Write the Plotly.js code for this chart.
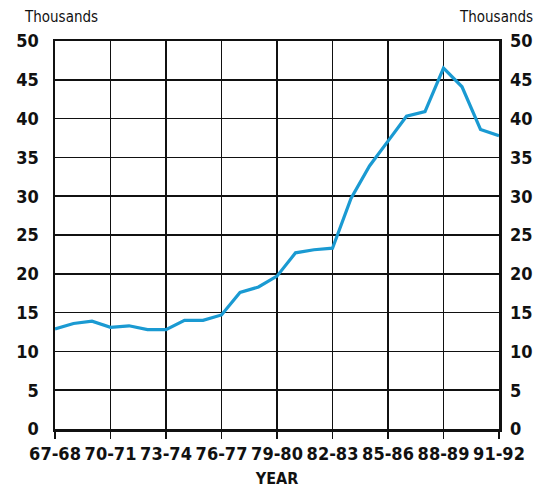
<!DOCTYPE html>
<html>
<head>
<meta charset="utf-8">
<script src="https://cdn.plot.ly/plotly-3.0.1.min.js"></script>
<style>html,body{margin:0;padding:0;background:#fff;}#chart{width:550px;height:488px;}
#chart svg text{font-stretch:condensed !important;}</style>
</head>
<body>
<div id="chart"></div>
<script>
const years = ["67-68","68-69","69-70","70-71","71-72","72-73","73-74","74-75","75-76","76-77",
  "77-78","78-79","79-80","80-81","81-82","82-83","83-84","84-85","85-86","86-87",
  "87-88","88-89","89-90","90-91","91-92"];
const values = [12.9,13.6,13.9,13.1,13.3,12.8,12.8,14.0,14.0,14.7,
  17.6,18.3,19.7,22.7,23.1,23.3,29.7,33.9,37.1,40.3,
  40.9,46.5,44.1,38.6,37.8];
const tickLabels = ["67-68","70-71","73-74","76-77","79-80","82-83","85-86","88-89","91-92"];
const yTicks = [0,5,10,15,20,25,30,35,40,45,50];

const FONT = '"DejaVu Sans Condensed", "Liberation Sans Narrow", sans-serif';
const tickFont = {family: FONT, size: 18, color: '#111', weight: 'bold'};

const traces = [
  {x: years, y: values, type: 'scatter', mode: 'lines',
   line: {color: '#1a9ad2', width: 3.2}, hoverinfo: 'x+y'},
  {x: years, y: values, type: 'scatter', mode: 'lines', yaxis: 'y2',
   line: {color: 'rgba(0,0,0,0)', width: 0}, hoverinfo: 'skip', showlegend: false}
];

const layout = {
  width: 550, height: 488,
  margin: {l: 55, r: 51, t: 41, b: 59},
  paper_bgcolor: '#fff', plot_bgcolor: '#fff',
  showlegend: false,
  xaxis: {
    type: 'category', categoryorder: 'array', categoryarray: years,
    range: [0, years.length - 1],
    tickmode: 'array', tickvals: tickLabels, ticktext: tickLabels, tickangle: 0,
    ticks: 'outside', ticklen: 7, tickwidth: 1.5, tickcolor: '#111',
    showgrid: true, gridcolor: '#111', gridwidth: 1.5,
    showline: true, linecolor: '#111', linewidth: 2.5, mirror: true,
    tickfont: tickFont, zeroline: false, automargin: false,
    title: {text: 'YEAR', font: {family: FONT, size: 16, color: '#111', weight: 'bold'}, standoff: 10}
  },
  yaxis: {
    range: [0, 50], tickmode: 'array', tickvals: yTicks,
    showgrid: true, gridcolor: '#111', gridwidth: 1.5,
    showline: true, linecolor: '#111', linewidth: 2.5, mirror: true,
    ticks: '', tickfont: tickFont, zeroline: false, ticklabelstandoff: 10, automargin: false
  },
  yaxis2: {
    overlaying: 'y', side: 'right', range: [0, 50], tickmode: 'array', tickvals: yTicks,
    showgrid: false, showline: false, ticks: '', tickfont: tickFont, zeroline: false,
    ticklabelstandoff: 10, automargin: false
  },
  annotations: [
    {text: 'Thousands', xref: 'paper', yref: 'paper', x: -0.075, y: 1, yshift: 24,
     xanchor: 'left', yanchor: 'middle', showarrow: false,
     font: {family: FONT, size: 15, color: '#111'}},
    {text: 'Thousands', xref: 'paper', yref: 'paper', x: 1.08, y: 1, yshift: 24,
     xanchor: 'right', yanchor: 'middle', showarrow: false,
     font: {family: FONT, size: 15, color: '#111'}}
  ]
};

Plotly.newPlot('chart', traces, layout, {displayModeBar: false, staticPlot: true});
</script>
</body>
</html>
